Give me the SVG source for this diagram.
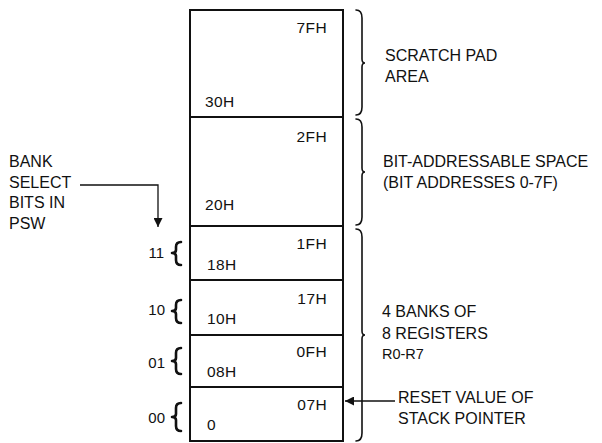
<svg xmlns="http://www.w3.org/2000/svg" width="602" height="443" viewBox="0 0 602 443">
<defs>
<style>
text{font-family:"Liberation Sans",Arial,sans-serif;fill:#111;}
.lbl{font-size:16px;}
.cell{font-size:15.5px;letter-spacing:0.4px;}
.bits{font-size:15px;}
.box{fill:#fff;stroke:#111;stroke-width:2;}
.brace{fill:none;stroke:#111;stroke-width:1.6;stroke-linecap:round;}
.lbrace{fill:none;stroke:#111;stroke-width:2.6;stroke-linecap:round;stroke-linejoin:round;}
.conn{fill:none;stroke:#111;stroke-width:1.3;}
</style>
<marker id="ah" viewBox="0 0 10 10" refX="10" refY="5" markerWidth="9" markerHeight="9" markerUnits="userSpaceOnUse" orient="auto">
<path d="M0 0 L10 5 L0 10 Z" fill="#111"/>
</marker>
</defs>
<rect width="602" height="443" fill="#fff"/>

<g id="mem-30-7F">
<rect class="box" x="190" y="10" width="153" height="107"/>
<text class="cell" x="327" y="33" text-anchor="end">7FH</text>
<text class="cell" x="205" y="107">30H</text>
</g>
<g id="mem-20-2F">
<rect class="box" x="190" y="117" width="153" height="109"/>
<text class="cell" x="327" y="142" text-anchor="end">2FH</text>
<text class="cell" x="205" y="210">20H</text>
</g>
<g id="bank-11">
<rect class="box" x="190" y="226" width="153" height="54"/>
<text class="cell" x="327" y="249" text-anchor="end">1FH</text>
<text class="cell" x="207" y="270">18H</text>
</g>
<g id="bank-10">
<rect class="box" x="190" y="280" width="153" height="55"/>
<text class="cell" x="327" y="304" text-anchor="end">17H</text>
<text class="cell" x="207" y="324">10H</text>
</g>
<g id="bank-01">
<rect class="box" x="190" y="335" width="153" height="52"/>
<text class="cell" x="327" y="357" text-anchor="end">0FH</text>
<text class="cell" x="207" y="377">08H</text>
</g>
<g id="bank-00">
<rect class="box" x="190" y="387" width="153" height="54"/>
<text class="cell" x="327" y="410" text-anchor="end">07H</text>
<text class="cell" x="207" y="430">0</text>
</g>

<g id="right-braces">
<path class="brace" d="M356 10 Q362 10 362 18 L362 59 Q362 63 365 63 Q362 63 362 67 L362 107 Q362 115 356 115"/>
<path class="brace" d="M356 119 Q362 119 362 127 L362 168 Q362 172 365 172 Q362 172 362 176 L362 217 Q362 225 356 225"/>
<path class="brace" d="M356 229 Q362 229 362 237 L362 331 Q362 335 365 335 Q362 335 362 339 L362 433 Q362 441 356 441"/>
</g>

<g id="left-braces">
<path class="lbrace" d="M181 242 Q176 242 176 247 L176 250 Q176 253 172 253 Q176 253 176 256 L176 260 Q176 265 181 265"/>
<path class="lbrace" d="M181 300 Q176 300 176 305 L176 308 Q176 311 172 311 Q176 311 176 314 L176 318 Q176 323 181 323"/>
<path class="lbrace" d="M181 348 Q176 348 176 353 L176 358 Q176 361 172 361 Q176 361 176 364 L176 369 Q176 374 181 374"/>
<path class="lbrace" d="M181 403 Q176 403 176 408 L176 414 Q176 417 172 417 Q176 417 176 420 L176 426 Q176 431 181 431"/>
<text class="bits" x="164" y="258" text-anchor="end">11</text>
<text class="bits" x="165" y="315" text-anchor="end">10</text>
<text class="bits" x="165" y="368" text-anchor="end">01</text>
<text class="bits" x="165" y="423" text-anchor="end">00</text>
</g>

<g id="label-scratch">
<text class="lbl" x="385" y="61">SCRATCH PAD</text>
<text class="lbl" x="385" y="82">AREA</text>
</g>
<g id="label-bitaddr">
<text class="lbl" x="383" y="167">BIT-ADDRESSABLE SPACE</text>
<text class="lbl" x="383" y="188">(BIT ADDRESSES 0-7F)</text>
</g>
<g id="label-banks">
<text class="lbl" x="382" y="317">4 BANKS OF</text>
<text class="lbl" x="382" y="339">8 REGISTERS</text>
<text class="lbl" x="382" y="359" style="font-size:14.5px">R0-R7</text>
</g>
<g id="label-reset">
<text class="lbl" x="398" y="403">RESET VALUE OF</text>
<text class="lbl" x="398" y="424">STACK POINTER</text>
</g>
<g id="label-bank-select">
<text class="lbl" x="9" y="167">BANK</text>
<text class="lbl" x="9" y="188">SELECT</text>
<text class="lbl" x="9" y="208">BITS IN</text>
<text class="lbl" x="9" y="229">PSW</text>
</g>

<g id="connectors">
<path class="conn" d="M80 185 H158 V227" marker-end="url(#ah)"/>
<path class="conn" d="M395 401 H345" marker-end="url(#ah)"/>
</g>
</svg>
